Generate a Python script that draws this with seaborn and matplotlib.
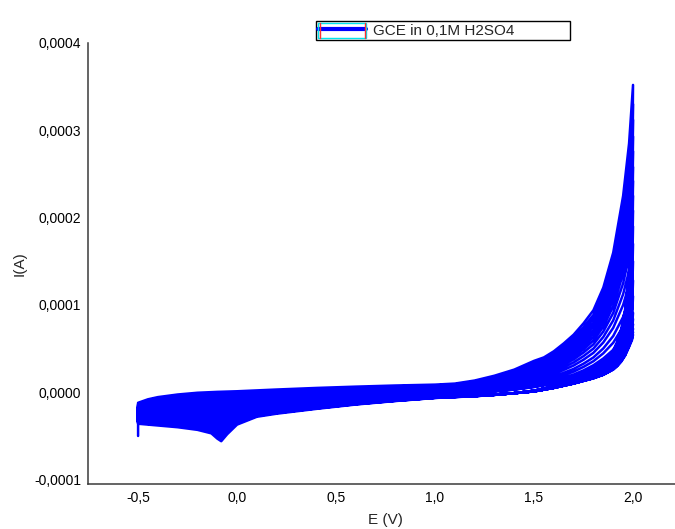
import numpy as np
import pandas as pd
import matplotlib
matplotlib.use("Agg")
import matplotlib.pyplot as plt
from matplotlib.ticker import FuncFormatter, MultipleLocator
from matplotlib.patches import Rectangle
from matplotlib.lines import Line2D
import seaborn as sns

# Potential grid of the anodic (forward) sweep, V
E_fwd = [-0.5, -0.45, -0.4, -0.3, -0.2, -0.1, 0.0, 0.2, 0.4, 0.6, 0.8, 1.0, 1.1,
         1.2, 1.3, 1.4, 1.5, 1.55, 1.6, 1.65, 1.7, 1.75, 1.8, 1.85, 1.9, 1.95, 1.98, 2.0]
# Forward current of the first and the last cycle, µA
fwd_first = [-12, -8, -5.5, -2.5, -0.5, 0.5, 1.2, 3.2, 5.0, 6.5, 7.8, 8.8, 10,
             13.5, 19, 26, 36, 40, 47, 56, 66, 79, 94, 120, 160, 225, 285, 352]
fwd_last = [-27, -22, -20.5, -19.5, -18.5, -17.5, -16.5, -13.5, -10.5, -8, -5.5, -3.5, -2.5,
            -1, 1, 3, 6, 8, 10, 13, 16, 20, 25, 31, 38, 48, 56, 66]

# Potential grid of the cathodic (reverse) sweep, V
E_rev = [2.0, 1.995, 1.98, 1.96, 1.94, 1.92, 1.9, 1.85, 1.8, 1.7, 1.6, 1.5, 1.4, 1.3,
         1.2, 1.0, 0.8, 0.6, 0.4, 0.2, 0.1, 0.0, -0.05, -0.08, -0.1, -0.13, -0.2,
         -0.3, -0.4, -0.45, -0.5]
# Reverse current of the first and the last cycle, µA
rev_first = [352, 220, 140, 95, 72, 58, 48, 34, 25, 14, 7, 2, -1, -3,
             -4.5, -6.5, -10, -14, -19, -24.5, -28, -37, -48, -56, -53, -47, -43,
             -40, -38, -37, -36]
rev_last = [66, 60, 52, 42, 35, 30, 26, 20, 16, 10, 5, 1, -1, -2.5,
            -3.5, -5, -7, -9, -11.5, -14, -15.5, -17, -18, -19, -19.5, -20, -21,
            -22, -23.5, -25, -27]

# Switching-potential current of each cycle, µA
vertex_current = [352, 330, 312, 293, 276, 258, 242, 225, 208, 190, 170, 150, 128,
                  110, 91, 84, 78, 73, 69, 66]
# Current at the very first point of the scan, µA
start_current = -50

series_label = "GCE in 0,1M H2SO4"

# Build the full multi-cycle voltammogram
fwd_first_a, fwd_last_a = np.array(fwd_first), np.array(fwd_last)
rev_first_a, rev_last_a = np.array(rev_first), np.array(rev_last)
vmax, vmin = vertex_current[0], vertex_current[-1]
E_all, I_all = [E_fwd[0]], [start_current]
for v in vertex_current:
    t = (v - vmin) / (vmax - vmin)
    E_all += E_fwd + E_rev
    I_all += list(fwd_last_a + t * (fwd_first_a - fwd_last_a))
    I_all += list(rev_last_a + t * (rev_first_a - rev_last_a))
df = pd.DataFrame({"E": E_all, "I": np.array(I_all) * 1e-6,
                   "step": np.arange(len(E_all))})

sns.set_style("white")
plt.rcParams["font.family"] = ["Liberation Sans", "DejaVu Sans"]

fig = plt.figure(figsize=(6.75, 5.29), dpi=100)
ax = fig.add_axes([88 / 675, 45 / 529, 1 - 88 / 675, 441 / 529])

sns.lineplot(data=df, x="E", y="I", sort=False, estimator=None, color="#0000ff",
             lw=1.8, ax=ax, label=series_label)

ax.set_xlim(-0.753, 2.212)
ax.set_ylim(-0.000105, 0.0004)
ax.xaxis.set_major_locator(MultipleLocator(0.5))
ax.yaxis.set_major_locator(MultipleLocator(0.0001))
ax.xaxis.set_major_formatter(FuncFormatter(
    lambda v, p: ("%.1f" % (0.0 if abs(v) < 1e-9 else v)).replace(".", ",")))
ax.yaxis.set_major_formatter(FuncFormatter(
    lambda v, p: ("%.4f" % (0.0 if abs(v) < 1e-12 else v)).replace(".", ",")))
ax.tick_params(length=0, pad=5, labelsize=10, colors="black")

for side in ("top", "right"):
    ax.spines[side].set_visible(False)
for side in ("left", "bottom"):
    ax.spines[side].set_color("#3a3a3a")
    ax.spines[side].set_linewidth(1.1)

ax.set_xlabel("E (V)", fontsize=11)
ax.set_ylabel("I(A)", fontsize=11)
ax.xaxis.set_label_coords(0.506, -0.065)
ax.yaxis.set_label_coords(-0.105, 0.5)

leg = ax.legend(loc="lower left",
                bbox_to_anchor=(316 / 675, 489 / 529, 254 / 675, 24 / 529),
                bbox_transform=fig.transFigure, mode="expand", borderaxespad=0,
                fancybox=False, edgecolor="black", framealpha=1, fontsize=11,
                handlelength=3.1, borderpad=0.15, handletextpad=0.5)
leg.get_frame().set_linewidth(1.0)
for h in leg.legend_handles:
    h.set_linewidth(3)

# Frame the legend sample the way the instrument software does
fig.canvas.draw()
hb = leg.legend_handles[0].get_window_extent(fig.canvas.get_renderer())
fb = leg.get_frame().get_window_extent(fig.canvas.get_renderer())
x0, x1 = hb.x0, hb.x1
y0, y1 = fb.y0 + 2, fb.y1 - 2
fig.patches.append(Rectangle((x0, y0), x1 - x0, y1 - y0, fill=False,
                             edgecolor="#00e5ee", lw=1.0, transform=None, zorder=10))
for xx in (x0 + 1.5, x1 - 0.5):
    fig.lines.append(Line2D([xx, xx], [y0, y1], color="#ff3030", lw=1.0,
                            transform=None, zorder=11))

fig.savefig("out.png", dpi=100)
